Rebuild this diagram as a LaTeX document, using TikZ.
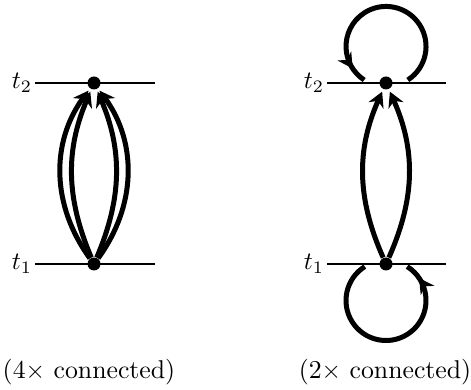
\documentclass[tikz,border=0pt]{standalone}
\usetikzlibrary{arrows.meta,decorations.markings}
\tikzset{
  level/.style={line width=1pt},
  vertex/.style={circle,fill=black,inner sep=0pt,minimum size=5.2pt},
  tlabel/.style={anchor=east,inner sep=1pt},
  caption/.style={font=\fontsize{10.3pt}{12.5pt}\selectfont,inner sep=0pt},
  flow/.style={line width=2pt,shorten >=1pt,-{Stealth[length=6pt,width=6.5pt]}},
  selfloop/.style={line width=2pt,postaction=decorate,
    decoration={markings,mark=at position 0.92 with {\arrow{Stealth[length=6pt,width=6.5pt]}}}},
}
\begin{document}
\begin{tikzpicture}[x=0.4pt,y=0.4pt]
  \useasboundingbox (0,0) rectangle (471,390);
  % left diagram
  \foreach \y/\t in {126/1,307/2}{
    \node[tlabel] (la\t) at (35,\y) {$t_\t$};
    \draw[level] (la\t.east) -- (155,\y);
  }
  \node[vertex] (a1) at (94,126) {};
  \node[vertex] (a2) at (94,307) {};
  \foreach \b in {23,36}{
    \draw[flow] (a1) to[bend left=\b] (a2);
    \draw[flow] (a1) to[bend right=\b] (a2);
  }
  \node[caption] (cap4) at (89,18) {(4$\times$ connected)};
  % right diagram
  \foreach \y/\t in {126/1,307/2}{
    \node[tlabel] (lb\t) at (327,\y) {$t_\t$};
    \draw[level] (lb\t.east) -- (446,\y);
  }
  \node[vertex] (b1) at (386,126) {};
  \node[vertex] (b2) at (386,307) {};
  \draw[flow] (b1) to[bend left=24] (b2);
  \draw[flow] (b1) to[bend right=24] (b2);
  \coordinate (b2r) at (407.8,310);
  \coordinate (b1l) at (364.8,123.4);
  \draw[selfloop] (b2r) arc[start angle=-57,end angle=237,radius=40];
  \draw[selfloop] (b1l) arc[start angle=122,end angle=418,radius=40];
  \node[caption] (cap2) at (385,18) {(2$\times$ connected)};
\end{tikzpicture}
\end{document}
